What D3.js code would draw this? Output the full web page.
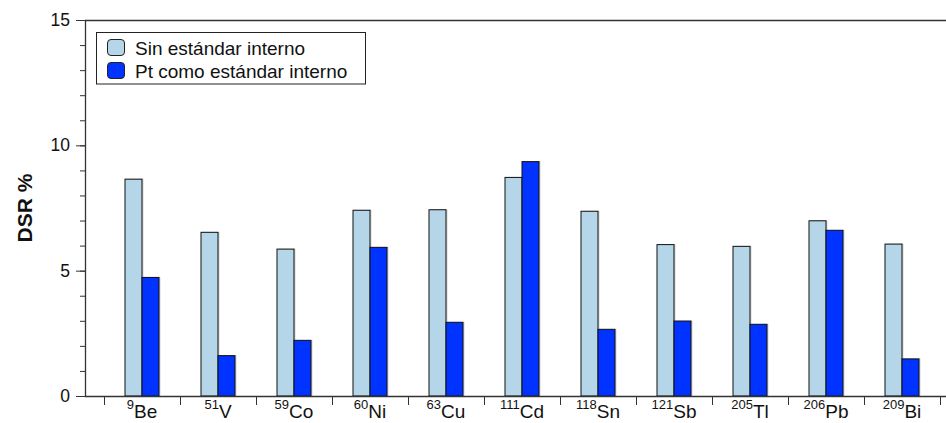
<!DOCTYPE html>
<html>
<head>
<meta charset="utf-8">
<script src="https://cdn.jsdelivr.net/npm/d3@7"></script>
<style>
  html, body { margin: 0; padding: 0; background: #fff; }
  svg { display: block; font-family: "Liberation Sans", Arial, Helvetica, sans-serif; }
</style>
</head>
<body>
<svg id="chart" width="946" height="423"></svg>
<script>
// Isotopes on the x axis: mass number (superscript) and element symbol
const isotopeMass = ["9", "51", "59", "60", "63", "111", "118", "121", "205", "206", "209"];
const elements = ["Be", "V", "Co", "Ni", "Cu", "Cd", "Sn", "Sb", "Tl", "Pb", "Bi"];

// DSR % for each isotope
const sinEstandar = [8.65, 6.53, 5.86, 7.41, 7.43, 8.72, 7.37, 6.04, 5.97, 6.99, 6.06];
const ptEstandar  = [4.73, 1.61, 2.22, 5.93, 2.94, 9.35, 2.66, 2.99, 2.86, 6.61, 1.48];

const seriesNames = ["Sin estándar interno", "Pt como estándar interno"];
const seriesColors = ["#b4d6e8", "#0033ff"];

const yMajorTicks = [0, 5, 10, 15];
const yMinorTicks = d3.range(0, 16, 1);

const svg = d3.select("#chart");
const W = 946;
const plot = { left: 85, top: 20, bottom: 396, bandStart: 104, bandEnd: 940 };
const barW = 17;

const y = d3.scaleLinear().domain([0, 15]).range([plot.bottom, plot.top]);
const x0 = d3.scaleBand().domain(elements).range([plot.bandStart, plot.bandEnd]).paddingInner(0).paddingOuter(0);
const x1 = d3.scaleBand().domain(seriesNames)
  .range([x0.bandwidth() / 2 - barW, x0.bandwidth() / 2 + barW]);

const rows = elements.map((e, i) => ({ el: e, mass: isotopeMass[i], vals: [sinEstandar[i], ptEstandar[i]] }));

// frame: top border
svg.append("line").attr("x1", plot.left).attr("x2", W).attr("y1", plot.top + 0.5).attr("y2", plot.top + 0.5)
  .attr("stroke", "#333").attr("stroke-width", 1.3);

// bars
const groups = svg.append("g").selectAll("g").data(rows).join("g")
  .attr("transform", d => `translate(${x0(d.el)},0)`);

const barData = d => d.vals.map((v, k) => ({ key: seriesNames[k], v, k }));

// soft shadow to the right of each bar
groups.selectAll("rect.shadow").data(barData).join("rect")
  .attr("class", "shadow")
  .attr("x", d => x1(d.key) + 1.5)
  .attr("y", d => y(d.v) - 0.5)
  .attr("width", x1.bandwidth())
  .attr("height", d => plot.bottom - y(d.v))
  .attr("fill", "#bbb").attr("opacity", 0.6);

groups.selectAll("rect.bar").data(barData).join("rect")
  .attr("class", "bar")
  .attr("x", d => x1(d.key))
  .attr("y", d => y(d.v))
  .attr("width", x1.bandwidth())
  .attr("height", d => plot.bottom - y(d.v))
  .attr("fill", d => seriesColors[d.k])
  .attr("stroke", "#111").attr("stroke-width", 1);

// y axis with major and minor ticks
const yAxisG = svg.append("g").attr("transform", `translate(${plot.left},0)`);
yAxisG.call(d3.axisLeft(y).tickValues(yMinorTicks).tickSize(5).tickFormat(""))
  .call(g => g.select(".domain").remove())
  .call(g => g.selectAll("line").attr("stroke", "#333"));
yAxisG.append("g").call(d3.axisLeft(y).tickValues(yMajorTicks).tickSize(9).tickPadding(6).tickFormat(d3.format("d")))
  .call(g => g.select(".domain").remove())
  .call(g => g.selectAll("line").attr("stroke", "#333"))
  .call(g => g.selectAll("text").attr("font-size", 17.5).attr("fill", "#111")
    .attr("font-family", "Liberation Sans, Arial, sans-serif"));
yAxisG.append("line").attr("x1", 0.5).attr("x2", 0.5).attr("y1", plot.top).attr("y2", plot.bottom)
  .attr("stroke", "#333").attr("stroke-width", 1.3);

// x axis: ticks at the category boundaries
const boundaries = elements.map(e => x0(e)).concat([x0(elements[elements.length - 1]) + x0.bandwidth()]);
const xAxisG = svg.append("g").attr("transform", `translate(0,${plot.bottom})`);
xAxisG.append("line").attr("x1", plot.left).attr("x2", W).attr("y1", 0.5).attr("y2", 0.5)
  .attr("stroke", "#333").attr("stroke-width", 1.3);
xAxisG.selectAll("line.tick").data(boundaries).join("line")
  .attr("class", "tick")
  .attr("x1", d => d + 0.5).attr("x2", d => d + 0.5)
  .attr("y1", 0).attr("y2", 9)
  .attr("stroke", "#333");

const lbl = xAxisG.selectAll("text.lbl").data(rows).join("text")
  .attr("class", "lbl")
  .attr("x", d => x0(d.el) + x0.bandwidth() / 2)
  .attr("y", 22)
  .attr("text-anchor", "middle")
  .attr("fill", "#111");
lbl.append("tspan").attr("font-size", 13).attr("dy", -9).text(d => d.mass);
lbl.append("tspan").attr("font-size", 19).attr("dy", 9).text(d => d.el);

// y axis title
svg.append("text")
  .attr("transform", `translate(31.5,${(plot.top + plot.bottom) / 2}) rotate(-90)`)
  .attr("text-anchor", "middle")
  .attr("font-size", 21).attr("font-weight", "bold").attr("fill", "#111")
  .text("DSR %");

// legend
const leg = svg.append("g");
leg.append("rect").attr("x", 96.5).attr("y", 32.5).attr("width", 269).attr("height", 51.5)
  .attr("fill", "#fff").attr("stroke", "#222").attr("stroke-width", 1);
const legRows = leg.selectAll("g.item").data(seriesNames).join("g").attr("class", "item")
  .attr("transform", (d, i) => `translate(0,${i * 23})`);
legRows.append("rect").attr("x", 107.5).attr("y", 39.5).attr("width", 17).attr("height", 16)
  .attr("rx", 3.5).attr("ry", 3.5)
  .attr("fill", (d, i) => seriesColors[i]).attr("stroke", "#222").attr("stroke-width", 1);
legRows.append("text").attr("x", 135).attr("y", 54.5)
  .attr("font-size", 19).attr("fill", "#111").text(d => d);
</script>
</body>
</html>
